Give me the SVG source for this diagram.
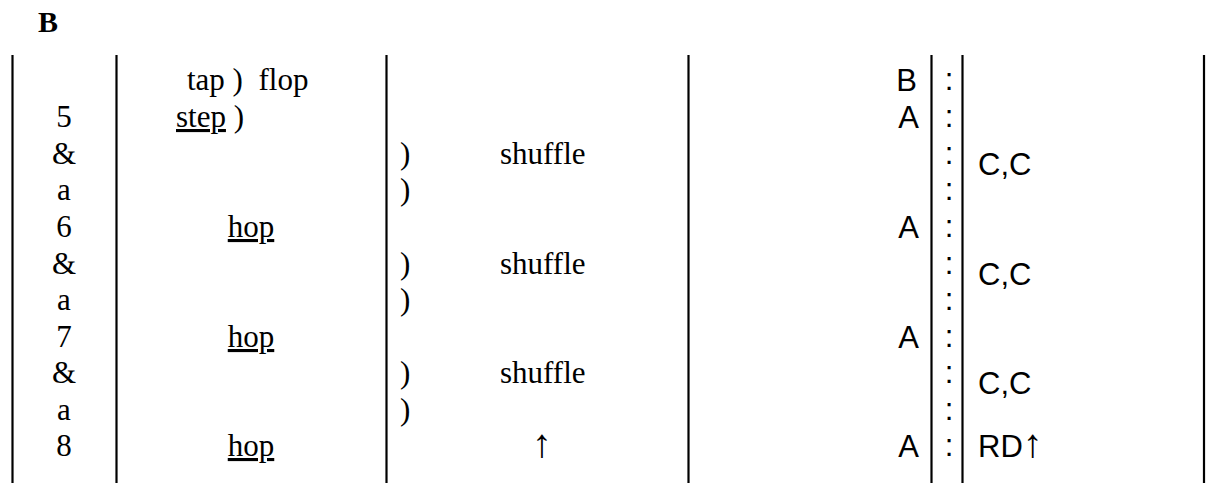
<svg xmlns="http://www.w3.org/2000/svg" width="1207" height="495" viewBox="0 0 1207 495">
<style>
.s{font-family:"Liberation Serif","Times New Roman",serif;font-size:31px;fill:#000}
.a{font-family:"Liberation Sans",Arial,sans-serif;font-size:31px;fill:#000}
.c{text-anchor:middle}
.e{text-anchor:end}
.u{text-decoration:underline}
.t{font-family:"Liberation Serif","Times New Roman",serif;font-size:30px;font-weight:bold}
.ar{font-family:"Liberation Serif","Times New Roman",serif;font-size:40px}
line{stroke:#000;stroke-width:2.2}
</style>
<rect width="1207" height="495" fill="#fff"/>
<text id="title" class="t" x="38" y="32">B</text>
<g id="grid">
<line x1="12.5" y1="55" x2="12.5" y2="483"/>
<line x1="116.5" y1="55" x2="116.5" y2="483"/>
<line x1="386.5" y1="55" x2="386.5" y2="483"/>
<line x1="688.5" y1="55" x2="688.5" y2="483"/>
<line x1="931.5" y1="55" x2="931.5" y2="483"/>
<line x1="962.5" y1="55" x2="962.5" y2="483"/>
<line x1="1204" y1="55" x2="1204" y2="483"/>
</g>
<g id="count">
<text class="s c" x="64" y="127">5</text>
<text class="s c" x="64" y="164">&amp;</text>
<text class="s c" x="64" y="200">a</text>
<text class="s c" x="64" y="237">6</text>
<text class="s c" x="64" y="274">&amp;</text>
<text class="s c" x="64" y="310">a</text>
<text class="s c" x="64" y="347">7</text>
<text class="s c" x="64" y="383">&amp;</text>
<text class="s c" x="64" y="420">a</text>
<text class="s c" x="64" y="456">8</text>
</g>
<g id="steps">
<text class="s" x="187" y="90" xml:space="preserve">tap )  flop</text>
<text class="s" x="176" y="127"><tspan class="u">step</tspan> )</text>
<text class="s c u" x="251" y="237">hop</text>
<text class="s c u" x="251" y="347">hop</text>
<text class="s c u" x="251" y="456">hop</text>
</g>
<g id="shuffles">
<text class="s" x="400" y="164">)</text>
<text class="s" x="500" y="164">shuffle</text>
<text class="s" x="400" y="200">)</text>
<text class="s" x="400" y="274">)</text>
<text class="s" x="500" y="274">shuffle</text>
<text class="s" x="400" y="310">)</text>
<text class="s" x="400" y="383">)</text>
<text class="s" x="500" y="383">shuffle</text>
<text class="s" x="400" y="420">)</text>
<text class="ar c" x="542" y="457">↑</text>
</g>
<g id="marks">
<text class="a e" x="917" y="91">B</text>
<text class="a e" x="919" y="128">A</text>
<text class="a e" x="919" y="238">A</text>
<text class="a e" x="919" y="348">A</text>
<text class="a e" x="919" y="457">A</text>
</g>
<g id="colons">
<text class="a c" x="949" y="90">:</text>
<text class="a c" x="949" y="127">:</text>
<text class="a c" x="949" y="164">:</text>
<text class="a c" x="949" y="200">:</text>
<text class="a c" x="949" y="237">:</text>
<text class="a c" x="949" y="274">:</text>
<text class="a c" x="949" y="310">:</text>
<text class="a c" x="949" y="347">:</text>
<text class="a c" x="949" y="383">:</text>
<text class="a c" x="949" y="420">:</text>
<text class="a c" x="949" y="456">:</text>
</g>
<g id="calls">
<text class="a" x="978" y="175">C,C</text>
<text class="a" x="978" y="285">C,C</text>
<text class="a" x="978" y="394">C,C</text>
<text class="a" x="978" y="457">RD<tspan class="ar">↑</tspan></text>
</g>
</svg>
